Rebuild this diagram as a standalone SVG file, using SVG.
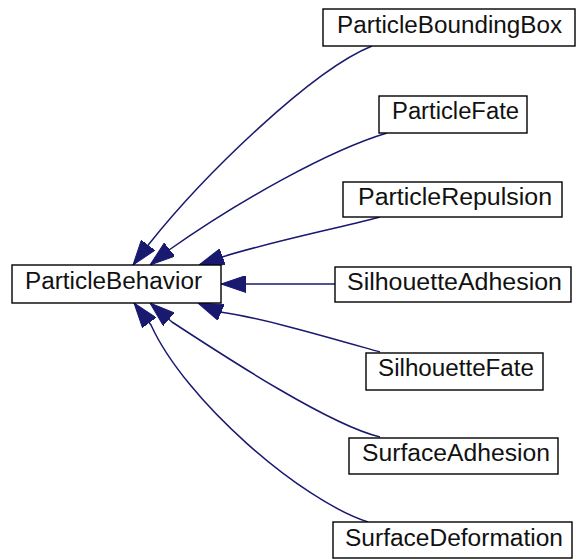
<svg xmlns="http://www.w3.org/2000/svg" width="576" height="559" viewBox="0 0 576 559">
  <style>
    .box { fill: #ffffff; stroke: #000000; stroke-width: 1.4; }
    .label { font-family: "Liberation Sans", Arial, Helvetica, sans-serif; font-size: 23px; fill: #111111; }
    .edge { fill: none; stroke: #191970; stroke-width: 1.5; marker-end: url(#arrow); }
  </style>
  <defs>
    <marker id="arrow" viewBox="0 0 25 17" refX="25" refY="8.5" markerWidth="25" markerHeight="17" markerUnits="userSpaceOnUse" orient="auto">
      <path d="M0,0 L25,8.5 L0,17 Z" fill="#191970" stroke="#191970" stroke-width="1"/>
    </marker>
  </defs>

  <!-- inheritance edges: derived class -> ParticleBehavior -->
  <g id="edges">
    <path class="edge" d="M372,46 C312,70 204,175 149,244 L133,265"/>
    <path class="edge" d="M387,133 C330,150 240,200 169,250 L150,265"/>
    <path class="edge" d="M380,217 C330,230 270,242 222,257 L199,265"/>
    <path class="edge" d="M335,284 L221,284"/>
    <path class="edge" d="M380,352 C320,335 262,318 220,312 L198,303"/>
    <path class="edge" d="M380,437 C330,425 230,360 172,322 L150,303"/>
    <path class="edge" d="M368,522 C300,500 185,400 151,325 L134,303"/>
  </g>

  <g id="ParticleBehavior">
    <rect class="box" x="12" y="265" width="209" height="38"/>
    <text class="label" x="25" y="289" textLength="177" lengthAdjust="spacingAndGlyphs">ParticleBehavior</text>
  </g>

  <g id="ParticleBoundingBox">
    <rect class="box" x="323" y="9" width="252" height="37"/>
    <text class="label" x="337" y="32.5" textLength="225" lengthAdjust="spacingAndGlyphs">ParticleBoundingBox</text>
  </g>

  <g id="ParticleFate">
    <rect class="box" x="379" y="96" width="148" height="37"/>
    <text class="label" x="392" y="118.5" textLength="127" lengthAdjust="spacingAndGlyphs">ParticleFate</text>
  </g>

  <g id="ParticleRepulsion">
    <rect class="box" x="343" y="182" width="219" height="35"/>
    <text class="label" x="358" y="205" textLength="194" lengthAdjust="spacingAndGlyphs">ParticleRepulsion</text>
  </g>

  <g id="SilhouetteAdhesion">
    <rect class="box" x="335" y="267" width="236" height="35"/>
    <text class="label" x="347" y="290" textLength="215" lengthAdjust="spacingAndGlyphs">SilhouetteAdhesion</text>
  </g>

  <g id="SilhouetteFate">
    <rect class="box" x="366" y="353" width="177" height="37"/>
    <text class="label" x="378" y="376" textLength="156" lengthAdjust="spacingAndGlyphs">SilhouetteFate</text>
  </g>

  <g id="SurfaceAdhesion">
    <rect class="box" x="349" y="438" width="209" height="36"/>
    <text class="label" x="362" y="461" textLength="188" lengthAdjust="spacingAndGlyphs">SurfaceAdhesion</text>
  </g>

  <g id="SurfaceDeformation">
    <rect class="box" x="333" y="522" width="239" height="36"/>
    <text class="label" x="345" y="546" textLength="218" lengthAdjust="spacingAndGlyphs">SurfaceDeformation</text>
  </g>
</svg>
